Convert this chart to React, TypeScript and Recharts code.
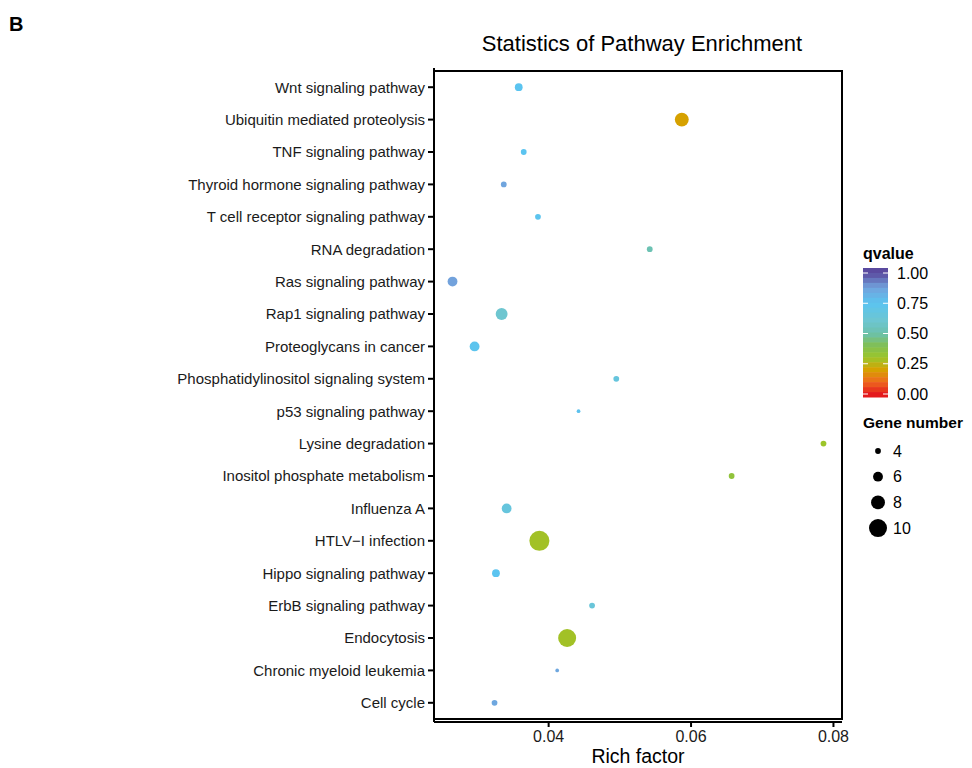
import { ScatterChart, Scatter, XAxis, YAxis, ReferenceArea } from 'recharts';

const FONT = '"Liberation Sans", Arial, sans-serif';

// pathways, top to bottom
const pathways = [
  'Wnt signaling pathway',
  'Ubiquitin mediated proteolysis',
  'TNF signaling pathway',
  'Thyroid hormone signaling pathway',
  'T cell receptor signaling pathway',
  'RNA degradation',
  'Ras signaling pathway',
  'Rap1 signaling pathway',
  'Proteoglycans in cancer',
  'Phosphatidylinositol signaling system',
  'p53 signaling pathway',
  'Lysine degradation',
  'Inositol phosphate metabolism',
  'Influenza A',
  'HTLV\u2212I infection',
  'Hippo signaling pathway',
  'ErbB signaling pathway',
  'Endocytosis',
  'Chronic myeloid leukemia',
  'Cell cycle',
];
const richFactor = [
  0.0358, 0.0587, 0.0365, 0.0337, 0.0385, 0.0542, 0.0265, 0.0334, 0.0296, 0.0495,
  0.0442, 0.0786, 0.0657, 0.0341, 0.0387, 0.0326, 0.0461, 0.0426, 0.0412, 0.0324,
];
const geneNumber = [5, 8, 4, 4, 4, 4, 6, 7, 6, 4, 3, 4, 4, 6, 11, 5, 4, 10, 3, 4];
const qvalue = [
  0.75, 0.2, 0.75, 0.87, 0.74, 0.52, 0.88, 0.6, 0.74, 0.66,
  0.76, 0.3, 0.34, 0.66, 0.29, 0.75, 0.64, 0.29, 0.86, 0.86,
];

const xTicks = [0.04, 0.06, 0.08];
const qTicks = [1, 0.75, 0.5, 0.25, 0];
const sizeTicks = [4, 6, 8, 10];

// qvalue colour scale stops
const colorStops: [number, string][] = [
  [0, '#e41a1c'],
  [0.1, '#ee6a1e'],
  [0.2, '#d6a100'],
  [0.3, '#9cc52a'],
  [0.4, '#80bf55'],
  [0.5, '#6cc1ac'],
  [0.6, '#6ec6d0'],
  [0.75, '#5bc4f0'],
  [0.88, '#72a2dc'],
  [1, '#5a4a9f'],
];

function hexToRgb(h: string) {
  return [1, 3, 5].map((i) => parseInt(h.slice(i, i + 2), 16));
}

function qColor(q: number) {
  const v = Math.max(0, Math.min(1, q));
  for (let i = 1; i < colorStops.length; i++) {
    const [q1, c1] = colorStops[i];
    const [q0, c0] = colorStops[i - 1];
    if (v <= q1) {
      const t = (v - q0) / (q1 - q0);
      const a = hexToRgb(c0);
      const b = hexToRgb(c1);
      const m = a.map((x, k) => Math.round(x + (b[k] - x) * t));
      return `rgb(${m[0]},${m[1]},${m[2]})`;
    }
  }
  return colorStops[colorStops.length - 1][1];
}

const radius = (g: number) => 1.02 * g - 1.2;

const data = pathways.map((name, i) => ({
  name,
  rich: richFactor[i],
  genes: geneNumber[i],
  q: qvalue[i],
}));

const domainX: [number, number] = [0.0239, 0.0812];

function Dot(props: any) {
  const { cx, cy, payload } = props;
  if (cx == null || cy == null) return null;
  return <circle cx={cx} cy={cy} r={radius(payload.genes)} fill={qColor(payload.q)} />;
}

// colourbar + size legend, drawn to the right of the panel
function LegendBox() {
  const off = 6;
  const barTop = 20 + off;
  const barBottom = 149 + off;
  const qTop = 25 + off;
  const qBottom = 146 + off;
  const bands = 26;
  const bandH = (barBottom - barTop) / bands;
  const qy = (q: number) => qBottom - (qBottom - qTop) * q;
  return (
    <svg width={118} height={310} style={{ display: 'block', fontFamily: FONT }}>
      <text x={9} y={11 + off} fontSize={16} fontWeight="bold" fill="#000">qvalue</text>
      {Array.from({ length: bands }, (_, i) => {
        const y = barTop + i * bandH;
        const q = 1 - ((y + bandH / 2 - qTop) / (qBottom - qTop));
        return <rect key={i} x={9} y={y} width={25} height={bandH + 0.5} fill={qColor(q)} />;
      })}
      {qTicks.map((q) => (
        <g key={q}>
          <line x1={9} x2={14} y1={qy(q)} y2={qy(q)} stroke="#fff" strokeWidth={1} />
          <line x1={29} x2={34} y1={qy(q)} y2={qy(q)} stroke="#fff" strokeWidth={1} />
          <text x={43} y={qy(q)} dy="0.35em" fontSize={16} fill="#000">{q.toFixed(2)}</text>
        </g>
      ))}
      <text x={9} y={180 + off} fontSize={15.5} fontWeight="bold" fill="#000">Gene number</text>
      {sizeTicks.map((g, i) => (
        <g key={g}>
          <circle cx={24} cy={203 + off + i * 25.7} r={radius(g)} fill="#000" />
          <text x={39} y={203 + off + i * 25.7} dy="0.35em" fontSize={16} fill="#000">{g}</text>
        </g>
      ))}
    </svg>
  );
}

export default function App() {
  return (
    <div style={{ position: 'relative', width: 956, height: 760, fontFamily: FONT }}>
      <div style={{ position: 'absolute', left: 1, top: 5, fontSize: 20, fontWeight: 'bold', color: '#000' }}>B</div>
      <div
        style={{
          position: 'absolute',
          left: 426,
          width: 416,
          top: 23,
          textAlign: 'center',
          fontSize: 22,
          color: '#000',
        }}
      >
        Statistics of Pathway Enrichment
      </div>
      <div style={{ position: 'absolute', left: 846, top: 234 }}>
        <LegendBox />
      </div>
      <ScatterChart width={956} height={760} margin={{ top: 60, right: 122, bottom: 0, left: 0 }}>
        <XAxis
          type="number"
          dataKey="rich"
          domain={domainX}
          allowDataOverflow
          ticks={xTicks}
          tickFormatter={(v: number) => v.toFixed(2)}
          height={46}
          axisLine={{ stroke: '#000', strokeWidth: 2 }}
          tickLine={{ stroke: '#000', strokeWidth: 2 }}
          tickSize={5}
          tickMargin={4}
          tick={{ fill: '#1a1a1a', fontSize: 16, fontFamily: FONT }}
          label={{ value: 'Rich factor', position: 'insideBottom', offset: 5, fill: '#000', fontSize: 19.5, fontFamily: FONT }}
        />
        <YAxis
          type="category"
          dataKey="name"
          ticks={pathways}
          interval={0}
          reversed
          width={426}
          padding={{ top: 3, bottom: 3 }}
          axisLine={{ stroke: '#000', strokeWidth: 2 }}
          tickLine={{ stroke: '#000', strokeWidth: 2 }}
          tickSize={6}
          tickMargin={3}
          tick={{ fill: '#1a1a1a', fontSize: 15, fontFamily: FONT }}
        />
        <ReferenceArea
          x1={domainX[0]}
          x2={domainX[1]}
          fill="none"
          stroke="#000"
          strokeWidth={2}
          ifOverflow="visible"
        />
        <Scatter data={data} shape={Dot} isAnimationActive={false} />
      </ScatterChart>
    </div>
  );
}
